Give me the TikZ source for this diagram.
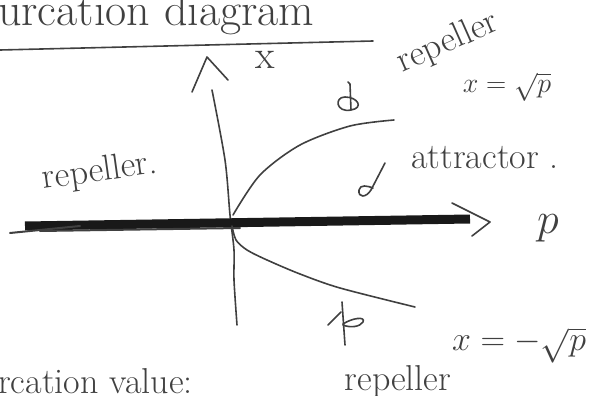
\RequirePackage{fix-cm}
\documentclass[tikz,border=0pt]{standalone}
\usepackage{amsmath}
\begin{document}
\begin{tikzpicture}[x=1pt,y=-1pt,
  pencil/.style={draw=black!75,line width=1.6pt,line cap=round,line join=round},
  hand/.style={text=black!75,inner sep=0pt},
  big/.style={font=\fontsize{36}{36}\selectfont},
]
\useasboundingbox (0,0) rectangle (598,396);
% title and underline
\node[hand,anchor=base west,font=\fontsize{46}{46}\selectfont] (title) at (-2,26) {urcation diagram};
\coordinate (ulA) at (0,50);
\coordinate (ulB) at (373,41);
\draw[pencil] (ulA) -- (ulB);
% vertical axis
\draw[pencil] plot[smooth] coordinates {(237,325) (234,280) (234,250) (230,215) (225,160) (212,90)};
\coordinate (vapex) at (207,57);
\coordinate (vwl) at (192,92);
\coordinate (vwr) at (228,80);
\draw[pencil] (vwl) -- (vapex) -- (vwr);
\node[hand,font=\fontsize{40}{40}\selectfont] (xlab) at (265,60) {x};
% horizontal axis (thick)
\coordinate (hL) at (25,226);
\coordinate (hR) at (470,219);
\draw[black!90,line width=9pt] (hL) -- (hR);
\draw[pencil,line width=2pt] (10,233) -- (80,226);
\draw[pencil,line width=2pt] (40,231) -- (240,228);
\coordinate (hwa) at (452,203);
\coordinate (happ) at (490,222);
\coordinate (hwb) at (472,236);
\draw[pencil] (hwa) -- (happ) -- (hwb);
\node[hand,font=\fontsize{44}{44}\selectfont] (plab) at (548,228) {$p$};
% branches
\draw[pencil] plot[smooth] coordinates {(233,215) (260,175) (300,145) (350,126) (394,120)};
\draw[pencil] plot[smooth] coordinates {(232,226) (236,240) (247,250) (267,260) (300,274) (340,288) (415,307)};
% small flow arrows
\draw[pencil] (348,82) -- (350,84) -- (351,110) .. controls (336,113) and (334,97) .. (345,97) .. controls (358,97) and (364,108) .. (351,110);
\draw[pencil] (385,163) -- (371,190) .. controls (366,198) and (358,198) .. (359,190) .. controls (360,184) and (368,186) .. (373,188);
\draw[pencil] (342,302) -- (345,345);
\draw[pencil] (328,325) -- (341,312);
\draw[pencil] (343,324) .. controls (352,318) and (366,316) .. (363,322) .. controls (360,327) and (350,328) .. (343,325);
% labels
\node[hand,big,rotate=24] (rep1) at (448,43) {repeller};
\node[hand,font=\fontsize{28}{28}\selectfont] (eq1) at (507,87) {$x=\sqrt{p}$};
\node[hand,big] (attr) at (485,158) {attractor .};
\node[hand,big,rotate=8] (rep2) at (100,172) {repeller.};
\node[hand,font=\fontsize{34}{34}\selectfont,anchor=west] (eq2) at (452,345) {$x=-\sqrt{p}$};
\node[hand,big,anchor=base] (rep3) at (398,390) {repeller};
\node[hand,big,anchor=base west] (bval) at (-2,393) {rcation value:};
\end{tikzpicture}
\end{document}
